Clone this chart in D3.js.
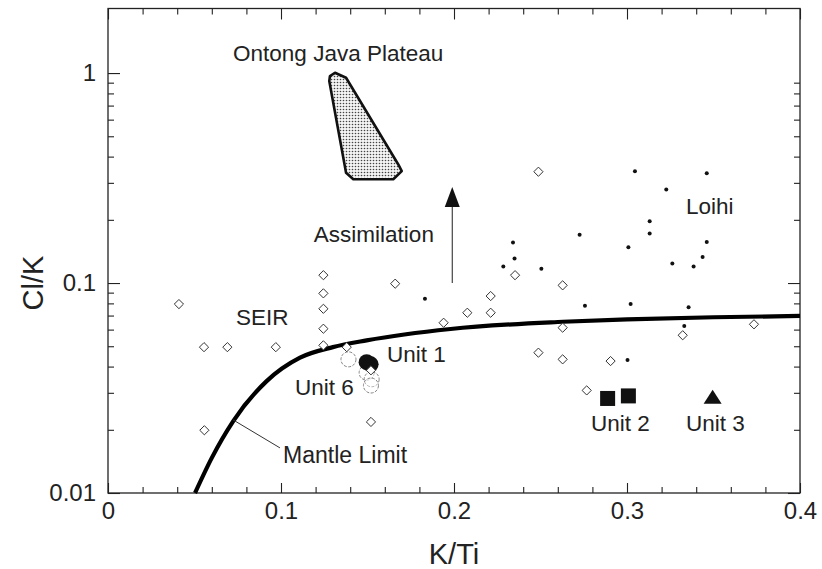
<!DOCTYPE html>
<html>
<head>
<meta charset="utf-8">
<script src="https://cdn.jsdelivr.net/npm/d3@7/dist/d3.min.js"></script>
<style>
  html, body { margin: 0; padding: 0; background: #fff; }
  svg { display: block; font-family: "Liberation Sans", Arial, Helvetica, sans-serif; }
</style>
</head>
<body>
<svg id="chart" width="822" height="569"></svg>
<script>
// ---------------- data ----------------
const xTickLabels = [0, 0.1, 0.2, 0.3, 0.4];
const yTickLabels = [0.01, 0.1, 1];

// open diamonds (SEIR and others): [K/Ti, Cl/K]
const diamondsK = [0.041, 0.0555, 0.069, 0.097, 0.1245, 0.1245, 0.1245, 0.1245, 0.1245, 0.138, 0.166, 0.194,
  0.0557, 0.152, 0.152, 0.2488, 0.2077, 0.2212, 0.2212, 0.2353, 0.2628, 0.2628, 0.2488, 0.2628, 0.2905,
  0.2767, 0.3322, 0.3734];
const diamondsCl = [0.0794, 0.0495, 0.0495, 0.0495, 0.109, 0.0893, 0.0754, 0.0606, 0.0505, 0.0495, 0.0993, 0.0647,
  0.0199, 0.0218, 0.0384, 0.339, 0.0722, 0.0867, 0.0722, 0.109, 0.0975, 0.0613, 0.0466, 0.0433, 0.0425,
  0.0308, 0.0564, 0.0636];

// Loihi small dots
const loihiK = [0.1832, 0.3046, 0.3461, 0.3227, 0.3131, 0.3131, 0.2726, 0.3008, 0.3461, 0.2341, 0.2350, 0.2285,
  0.2505, 0.3262, 0.3437, 0.3385, 0.2757, 0.3021, 0.3356, 0.3331, 0.3003];
const loihiCl = [0.0842, 0.341, 0.333, 0.279, 0.197, 0.172, 0.170, 0.148, 0.157, 0.156, 0.131, 0.120,
  0.117, 0.124, 0.133, 0.120, 0.078, 0.0794, 0.0766, 0.0624, 0.043];

// Unit 6 (open circles), Unit 1 (filled circles), Unit 2 (squares), Unit 3 (triangle)
const unit6K = [0.139, 0.1495, 0.1524, 0.152];
const unit6Cl = [0.0433, 0.0374, 0.0348, 0.0325];
const unit1K = [0.1495, 0.1518];
const unit1Cl = [0.0420, 0.0410];
const unit2K = [0.2888, 0.3008];
const unit2Cl = [0.0282, 0.029];
const unit3K = [0.3495];
const unit3Cl = [0.0284];

// Mantle limit curve
const mantleK = [0.0503, 0.06, 0.0724, 0.0917, 0.111, 0.130, 0.1495, 0.198, 0.263, 0.30, 0.35, 0.40];
const mantleCl = [0.01, 0.0147, 0.022, 0.0341, 0.0441, 0.0495, 0.0533, 0.0604, 0.0654, 0.0672, 0.0687, 0.0697];

// Ontong Java Plateau field outline
const ojpK = [0.1283, 0.1312, 0.1376, 0.1678, 0.1698, 0.1649, 0.1418, 0.1376, 0.1279];
const ojpCl = [0.968, 1.003, 0.950, 0.367, 0.341, 0.312, 0.312, 0.335, 0.916];

// Assimilation arrow (K/Ti, Cl/K from, to)
const arrowK = 0.199;
const arrowCl = [0.1, 0.287];

// text annotations
const labelText = ["Ontong Java Plateau", "Assimilation", "SEIR", "Unit 1", "Unit 6", "Loihi", "Unit 2", "Unit 3", "Mantle Limit"];
const labelK = [0.0723, 0.119, 0.074, 0.1613, 0.1081, 0.3341, 0.2792, 0.3341, 0.1012];
const labelCl = [1.14, 0.157, 0.0631, 0.0420, 0.0293, 0.213, 0.0197, 0.0197, 0.0139];
// leader line for Mantle Limit
const leaderK = [0.0723, 0.0994];
const leaderCl = [0.0223, 0.0164];

// ---------------- chart ----------------
const svg = d3.select("#chart");
const mLeft = 108, mRight = 800, mTop = 8.5, mBottom = 493;
const x = d3.scaleLinear().domain([0, 0.4]).range([mLeft, mRight]);
const y = d3.scaleLog().domain([0.01, 2.03]).range([mBottom, mTop]);

const defs = svg.append("defs");
const pat = defs.append("pattern").attr("id", "stipple").attr("patternUnits", "userSpaceOnUse")
  .attr("width", 3).attr("height", 3);
pat.append("rect").attr("width", 3).attr("height", 3).attr("fill", "#f4f4f4");
pat.append("circle").attr("cx", 1.5).attr("cy", 1.5).attr("r", 0.8).attr("fill", "#444");

// axes
const xMinor = d3.range(0, 0.4001, 0.02).map(v => +v.toFixed(2)).filter(v => xTickLabels.indexOf(v) < 0);
const yMinor = [];
[0.01, 0.1].forEach(d => { for (let i = 2; i <= 9; i++) yMinor.push(+(d * i).toFixed(3)); });

const axisColor = "#222";
function styleAxis(g) {
  g.select(".domain").remove();
  g.selectAll("line").attr("stroke", axisColor).attr("stroke-width", 1.1);
  g.selectAll("text").attr("fill", "#222").attr("font-size", 24);
}
// bottom
svg.append("g").attr("transform", `translate(0,${mBottom})`)
  .call(d3.axisBottom(x).tickValues(xMinor).tickSize(-6).tickFormat("")).call(styleAxis);
svg.append("g").attr("transform", `translate(0,${mBottom})`)
  .call(d3.axisBottom(x).tickValues(xTickLabels).tickSize(-10).tickPadding(9).tickFormat(d => d === 0 ? "0" : d3.format(".1f")(d)))
  .call(styleAxis);
// top
svg.append("g").attr("transform", `translate(0,${mTop})`)
  .call(d3.axisTop(x).tickValues(xMinor).tickSize(-6).tickFormat("")).call(styleAxis);
svg.append("g").attr("transform", `translate(0,${mTop})`)
  .call(d3.axisTop(x).tickValues(xTickLabels).tickSize(-11).tickFormat("")).call(styleAxis);
// left
svg.append("g").attr("transform", `translate(${mLeft},0)`)
  .call(d3.axisLeft(y).tickValues(yMinor).tickSize(-6).tickFormat("")).call(styleAxis);
svg.append("g").attr("transform", `translate(${mLeft},0)`)
  .call(d3.axisLeft(y).tickValues(yTickLabels).tickSize(-12).tickPadding(12).tickFormat(d => String(d)))
  .call(styleAxis);
// right
svg.append("g").attr("transform", `translate(${mRight},0)`)
  .call(d3.axisRight(y).tickValues(yMinor).tickSize(-6).tickFormat("")).call(styleAxis);
svg.append("g").attr("transform", `translate(${mRight},0)`)
  .call(d3.axisRight(y).tickValues(yTickLabels.slice(0, 2)).tickSize(-12).tickFormat("")).call(styleAxis);

// frame
svg.append("rect").attr("x", mLeft).attr("y", mTop).attr("width", mRight - mLeft).attr("height", mBottom - mTop)
  .attr("fill", "none").attr("stroke", axisColor).attr("stroke-width", 1.3);

// axis titles
svg.append("text").attr("x", x(0.2)).attr("y", 564).attr("text-anchor", "middle")
  .attr("font-size", 29).attr("fill", "#222").text("K/Ti");
svg.append("text").attr("transform", `translate(43,${y(0.1)}) rotate(-90)`).attr("text-anchor", "middle")
  .attr("font-size", 29).attr("fill", "#222").text("Cl/K");

const plot = svg.append("g");

// Ontong Java field
plot.append("path")
  .attr("d", d3.line().curve(d3.curveLinearClosed)(ojpK.map((k, i) => [x(k), y(ojpCl[i])])))
  .attr("fill", "url(#stipple)").attr("stroke", "#111").attr("stroke-width", 2.6).attr("stroke-linejoin", "round");

// Mantle limit curve
plot.append("path")
  .attr("d", d3.line().curve(d3.curveMonotoneX)(mantleK.map((k, i) => [x(k), y(mantleCl[i])])))
  .attr("fill", "none").attr("stroke", "#000").attr("stroke-width", 4.2);

// leader line
plot.append("line").attr("x1", x(leaderK[0])).attr("y1", y(leaderCl[0]))
  .attr("x2", x(leaderK[1])).attr("y2", y(leaderCl[1])).attr("stroke", "#333").attr("stroke-width", 1);

// assimilation arrow
const ax = x(arrowK), ay0 = y(arrowCl[0]), ay1 = y(arrowCl[1]);
plot.append("line").attr("x1", ax).attr("x2", ax).attr("y1", ay0).attr("y2", ay1 + 15)
  .attr("stroke", "#333").attr("stroke-width", 1.1);
plot.append("path").attr("d", `M${ax},${ay1} L${ax - 7.5},${ay1 + 20} L${ax + 7.5},${ay1 + 20} Z`).attr("fill", "#111");

// Loihi dots
plot.selectAll(".loihi").data(loihiK).join("circle")
  .attr("cx", d => x(d)).attr("cy", (d, i) => y(loihiCl[i])).attr("r", 2).attr("fill", "#111");

// Unit 6 dashed open circles
plot.selectAll(".u6").data(unit6K).join("circle")
  .attr("cx", d => x(d)).attr("cy", (d, i) => y(unit6Cl[i])).attr("r", 7.5)
  .attr("fill", "#fff").attr("fill-opacity", 0.4).attr("stroke", "#777").attr("stroke-width", 0.9)
  .attr("stroke-dasharray", "3,1.5");

// Unit 1 filled circles
plot.selectAll(".u1").data(unit1K).join("circle")
  .attr("cx", d => x(d)).attr("cy", (d, i) => y(unit1Cl[i])).attr("r", 8).attr("fill", "#111");

// diamonds
const dsym = d3.symbol().type(d3.symbolDiamond2).size(54);
plot.selectAll(".dia").data(diamondsK).join("path")
  .attr("d", dsym).attr("transform", (d, i) => `translate(${x(d)},${y(diamondsCl[i])})`)
  .attr("fill", "#fff").attr("stroke", "#333").attr("stroke-width", 1);

// Unit 2 squares
plot.selectAll(".u2").data(unit2K).join("rect")
  .attr("x", d => x(d) - 7.5).attr("y", (d, i) => y(unit2Cl[i]) - 7.5)
  .attr("width", 15).attr("height", 15).attr("fill", "#111");

// Unit 3 triangle
plot.selectAll(".u3").data(unit3K).join("path")
  .attr("d", (d, i) => { const cx = x(d), cy = y(unit3Cl[i]); return `M${cx},${cy - 8} L${cx - 9},${cy + 6} L${cx + 9},${cy + 6} Z`; })
  .attr("fill", "#111");

// labels
plot.selectAll(".lab").data(labelText).join("text")
  .attr("x", (d, i) => x(labelK[i])).attr("y", (d, i) => y(labelCl[i]))
  .attr("font-size", d => d === "Mantle Limit" ? 23 : 22.5).attr("fill", "#222").text(d => d);
</script>
</body>
</html>
